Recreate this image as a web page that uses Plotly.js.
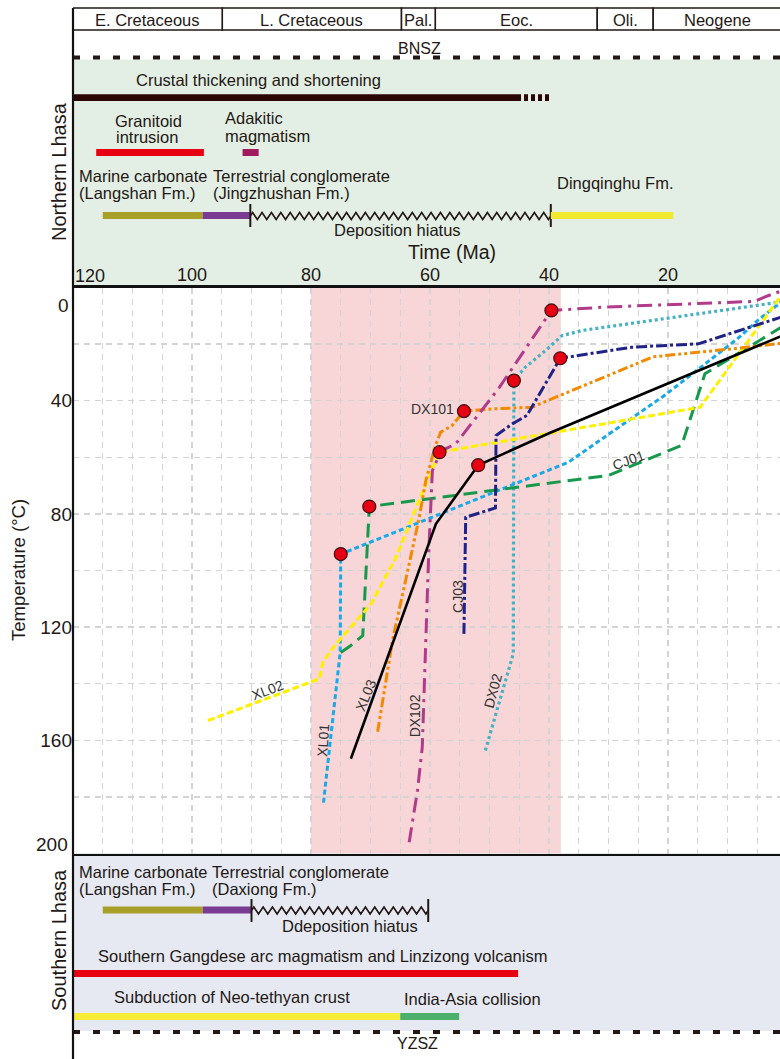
<!DOCTYPE html>
<html><head><meta charset="utf-8">
<script src="https://cdn.plot.ly/plotly-3.0.1.min.js"></script>
<style>html,body{margin:0;padding:0;overflow:hidden;background:#fff;width:780px;height:1059px}</style>
</head><body><div id="chart" style="width:800px;height:1059px"></div>
<script>
// ---------------- DATA ----------------
const periodNames = ['E. Cretaceous','L. Cretaceous','Pal.','Eoc.','Oli.','Neogene'];
const periodStart = [120, 94.9, 64.8, 59.1, 31.9, 22.5];
const periodEnd   = [94.9, 64.8, 59.1, 31.9, 22.5, 0.8];

const sampleNames = ['XL01','XL02','XL03','CJ01','CJ03','DX101','DX102','DX02'];

const xl01Age  = [77.9, 75.1, 75.0, 43.4, 36.7, 20.5, 13.2, 8.2, 4.9, 0];
const xl01Temp = [182, 129, 94.2, 67.5, 61.7, 38, 26, 17.9, 11.6, 3.5];

const xl02Age  = [97.3, 78.6, 78.0, 76.2, 69.9, 65.7, 61.8, 58.4, 14.6, 0];
const xl02Temp = [153, 138.3, 132.4, 127, 111.8, 95.3, 75.1, 58.2, 42.3, 0];

const xl03Age  = [73.3, 59.0, 51.9, 40.0, 0];
const xl03Temp = [166.5, 83.5, 62.8, 51.5, 16.3];

const cj01Age  = [75.0, 73.3, 71.3, 70.2, 30, 17.7, 13.8, 0];
const cj01Temp = [129, 126.5, 123, 77.4, 66.4, 55.8, 30.5, 12.8];

const cj03Age  = [54.3, 54.0, 49.0, 48.9, 46.2, 43.7, 38.1, 26.1, 14.9, 0];
const cj03Temp = [122.4, 81.2, 77.9, 52.3, 48.2, 45.2, 25.0, 21.1, 19.9, 9.8];

const dx101Age  = [68.8, 66.3, 64.1, 61.8, 60.7, 59.0, 58.2, 56.3, 54.3, 49.5, 42.9, 22.5, 9.3, 0];
const dx101Temp = [157, 124.7, 103.5, 81.2, 68.2, 55.3, 51.1, 48.8, 43.7, 42.9, 42.3, 24.5, 21.7, 19.5];

const dx102Age  = [63.5, 62.1, 61.3, 60.7, 60.2, 59.6, 58.5, 57.4, 55.7, 48.4, 39.6, 30.3, 5.4, 3.7, 0];
const dx102Temp = [196, 177.7, 162.4, 126.5, 92.9, 64.7, 59.5, 57, 55.3, 35.5, 8.1, 6.9, 4.9, 3.3, 0.5];

const dx02Age  = [50.7, 46.0, 45.9, 44.0, 40.6, 37.8, 34.5, 0];
const dx02Temp = [163.6, 129.4, 32.9, 28.2, 22.3, 17.0, 15.2, 4.8];

const dotAge  = [75.0, 70.2, 58.4, 54.3, 51.9, 45.9, 39.6, 38.1];
const dotTemp = [94.2, 77.4, 58.2, 43.7, 62.8, 32.9, 8.1, 25.0];

// event ages (Ma)
const shadeAges = [80, 38];
const crustalAges = [120, 44.7, 40.0];
const granitoidAges = [116.1, 98.0];
const adakiticAges = [91.5, 88.8];
const northStratAges = [115, 98.2, 90.2, 39.7, 19.1]; // carbonate | conglomerate | hiatus | Dingqinghu
const southStratAges = [115, 98.2, 90.0, 60.3];        // carbonate | conglomerate | hiatus
const gangdeseAges = [120, 45.2];
const subductionAges = [120, 65.0, 55.1];             // subduction | collision

const xTickVals = [100, 80, 60, 40, 20, 0];
const yTickVals = [40, 80, 120, 160];

// ---------------- LAYOUT HELPERS ----------------
const H = 1059, W = 800, L = 73, R = 13, PW = W - L - R;
const py = p => 1 - p / H;
const pxp = p => (p - L) / PW;
const FONT = 'Liberation Sans, Arial, sans-serif';
const TXT = '#231815';

function hbar(a0, a1, yPix, color, width, dash) {
  return {type:'line', xref:'x', yref:'paper', x0:a0, x1:a1, y0:py(yPix), y1:py(yPix),
          line:{color:color, width:width, dash:dash || 'solid'}};
}
function vtick(a, y0, y1) {
  return {type:'line', xref:'x', yref:'paper', x0:a, x1:a, y0:py(y0), y1:py(y1), line:{color:TXT, width:2}};
}
function zigzag(a0, a1, yPix, n, amp) {
  const step = (a1 - a0) / n;
  let d = 'M' + a0 + ',' + py(yPix);
  for (let i = 0; i < n; i++) {
    d += ' L' + (a0 + step * (i + 0.25)) + ',' + py(yPix - amp);
    d += ' L' + (a0 + step * (i + 0.75)) + ',' + py(yPix + amp);
  }
  d += ' L' + a1 + ',' + py(yPix);
  return {type:'path', xref:'x', yref:'paper', path:d, line:{color:TXT, width:1.6}};
}
function txt(text, xPix, yPix, opts) {
  opts = opts || {};
  return Object.assign({text:text, xref:'paper', yref:'paper', x:pxp(xPix), y:py(yPix),
    xanchor:'left', yanchor:'middle', showarrow:false,
    font:{family:FONT, size:16.5, color:TXT}}, opts);
}

// ---------------- TRACES ----------------
const styles = {
  XL01: {color:'#19a9e6', width:3, dash:'5px,3px'},
  XL02: {color:'#fff000', width:3, dash:'7px,3px'},
  XL03: {color:'#000000', width:2.6, dash:'solid'},
  CJ01: {color:'#16994a', width:3, dash:'14px,7px'},
  CJ03: {color:'#1f2287', width:3, dash:'11px,3px,3px,3px'},
  DX101:{color:'#f28a00', width:3, dash:'10px,3px,3px,3px,3px,3px'},
  DX102:{color:'#b23a8a', width:3, dash:'15px,6px,3px,6px'},
  DX02: {color:'#46b1c1', width:3.2, dash:'3px,3px'}
};
const seriesAge = {XL01:xl01Age, XL02:xl02Age, XL03:xl03Age, CJ01:cj01Age, CJ03:cj03Age, DX101:dx101Age, DX102:dx102Age, DX02:dx02Age};
const seriesTemp = {XL01:xl01Temp, XL02:xl02Temp, XL03:xl03Temp, CJ01:cj01Temp, CJ03:cj03Temp, DX101:dx101Temp, DX102:dx102Temp, DX02:dx02Temp};
const drawOrder = ['DX02','XL01','CJ01','XL02','DX101','DX102','CJ03','XL03'];

const traces = drawOrder.map(n => ({
  type:'scatter', mode:'lines', name:n, x:seriesAge[n], y:seriesTemp[n],
  line:styles[n], hoverinfo:'skip'
}));
traces.push({type:'scatter', mode:'markers', name:'samples', x:dotAge, y:dotTemp,
  marker:{size:13, color:'#e60012', line:{color:'#3b1212', width:1.2}}, hoverinfo:'skip'});

// ---------------- SHAPES ----------------
const shapes = [];
shapes.push({type:'rect', xref:'paper', yref:'paper', x0:0, x1:1.05, y0:py(287), y1:py(59.5),
  fillcolor:'#e3efe4', line:{width:0}, layer:'below'});
shapes.push({type:'rect', xref:'paper', yref:'paper', x0:0, x1:1.05, y0:py(1031), y1:py(853),
  fillcolor:'#e6e9f1', line:{width:0}, layer:'below'});
shapes.push({type:'rect', xref:'x', yref:'y', x0:shadeAges[0], x1:shadeAges[1], y0:0, y1:200,
  fillcolor:'#f8d6d7', line:{width:0}, layer:'below'});
for (let i = 0; i < periodNames.length; i++) {
  shapes.push({type:'rect', xref:'x', yref:'paper', x0:periodStart[i], x1:periodEnd[i], y0:py(30), y1:py(8),
    fillcolor:'rgba(0,0,0,0)', line:{color:TXT, width:1.4}});
}
shapes.push({type:'line', xref:'paper', yref:'paper', x0:0, x1:1.05, y0:py(57.5), y1:py(57.5),
  line:{color:TXT, width:4, dash:'7px,13px'}});
shapes.push({type:'line', xref:'paper', yref:'paper', x0:0, x1:1.05, y0:py(1032), y1:py(1032),
  line:{color:TXT, width:4, dash:'7px,13px'}});
shapes.push(hbar(crustalAges[0], crustalAges[1], 97.7, '#2b0606', 6.7));
shapes.push(hbar(crustalAges[1] - 0.5, crustalAges[2], 97.7, '#2b0606', 6.7, '4px,3px'));
shapes.push(hbar(granitoidAges[0], granitoidAges[1], 152.5, '#e60012', 7));
shapes.push(hbar(adakiticAges[0], adakiticAges[1], 152.5, '#a21a5e', 7));
shapes.push(hbar(northStratAges[0], northStratAges[1], 215.5, '#a9a02a', 7));
shapes.push(hbar(northStratAges[1], northStratAges[2], 215.5, '#7a3b93', 7));
shapes.push(zigzag(northStratAges[2], northStratAges[3], 216, 32, 3.5));
shapes.push(vtick(northStratAges[2], 204, 227));
shapes.push(vtick(northStratAges[3], 204, 227));
shapes.push(hbar(northStratAges[3], northStratAges[4], 215.5, '#f1e92d', 7));
shapes.push(hbar(southStratAges[0], southStratAges[1], 910, '#a9a02a', 7));
shapes.push(hbar(southStratAges[1], southStratAges[2], 910, '#7a3b93', 7));
shapes.push(zigzag(southStratAges[2], southStratAges[3], 910.5, 19, 3.5));
shapes.push(vtick(southStratAges[2], 899, 922));
shapes.push(vtick(southStratAges[3], 899, 922));
shapes.push(hbar(gangdeseAges[0], gangdeseAges[1], 973.5, '#e60012', 7));
shapes.push(hbar(subductionAges[0], subductionAges[1], 1016.5, '#f7ec36', 7));
shapes.push(hbar(subductionAges[1], subductionAges[2], 1016.5, '#4caf6b', 7));
shapes.push({type:'line', xref:'paper', yref:'paper', x0:0, x1:0, y0:py(8), y1:py(1060),
  line:{color:'#111', width:2.2}});

// ---------------- ANNOTATIONS ----------------
const ann = [];
for (let i = 0; i < periodNames.length; i++) {
  ann.push({text:periodNames[i], xref:'x', yref:'paper', x:(periodStart[i] + periodEnd[i]) / 2, y:py(19.5),
    xanchor:'center', yanchor:'middle', showarrow:false, font:{family:FONT, size:16.5, color:TXT}});
}
ann.push(txt('BNSZ', 419, 48.5, {xanchor:'center', font:{family:FONT, size:16, color:TXT}}));
ann.push(txt('Crustal thickening and shortening', 134, 80));
ann.push(txt('Granitoid', 113, 121));
ann.push(txt('intrusion', 114, 137.5));
ann.push(txt('Adakitic', 223, 118));
ann.push(txt('magmatism', 223, 135.5));
ann.push(txt('Marine carbonate', 77, 176));
ann.push(txt('(Langshan Fm.)', 77, 193));
ann.push(txt('Terrestrial conglomerate', 211, 176));
ann.push(txt('(Jingzhushan Fm.)', 211, 193));
ann.push(txt('Dingqinghu Fm.', 555, 183));
ann.push(txt('Deposition hiatus', 397, 230, {xanchor:'center'}));
ann.push(txt('Time (Ma)', 452, 251.5, {xanchor:'center', font:{family:FONT, size:19.5, color:TXT}}));
ann.push(txt('Northern Lhasa', 59, 172, {xanchor:'center', textangle:-90, font:{family:FONT, size:20, color:TXT}}));
ann.push({text:'120', xref:'x', yref:'paper', x:120, y:py(276), xanchor:'left', yanchor:'middle',
  showarrow:false, font:{family:FONT, size:18, color:TXT}});

ann.push(txt('Marine carbonate', 77, 872));
ann.push(txt('(Langshan Fm.)', 77, 889));
ann.push(txt('Terrestrial conglomerate', 210, 872));
ann.push(txt('(Daxiong Fm.)', 210, 889));
ann.push(txt('Ddeposition hiatus', 350, 926, {xanchor:'center'}));
ann.push(txt('Southern Gangdese arc magmatism and Linzizong volcanism', 96, 956));
ann.push(txt('Subduction of Neo-tethyan crust', 112, 997));
ann.push(txt('India-Asia collision', 402, 999));
ann.push(txt('YZSZ', 417, 1043, {xanchor:'center', font:{family:FONT, size:16, color:TXT}}));
ann.push(txt('Southern Lhasa', 59, 940, {xanchor:'center', textangle:-90, font:{family:FONT, size:20, color:TXT}}));
ann.push(txt('Temperature (°C)', 18, 570, {xanchor:'center', textangle:-90, font:{family:FONT, size:18.5, color:TXT}}));
ann.push({text:'0', xref:'paper', yref:'y', x:0, y:0, xanchor:'right', yanchor:'top', xshift:-2, yshift:-5,
  showarrow:false, font:{family:FONT, size:19, color:TXT}});
ann.push({text:'200', xref:'paper', yref:'y', x:0, y:200, xanchor:'right', yanchor:'bottom', xshift:-3, yshift:-3,
  showarrow:false, font:{family:FONT, size:19, color:TXT}});

const lblFont = {family:FONT, size:14, color:'#333'};
const curveLabels = [
  ['XL02', 87.3, 142.1, -21], ['XL01', 78.0, 159.8, -86], ['XL03', 70.8, 143.9, -68],
  ['DX102', 62.5, 151.5, -90], ['DX02', 49.4, 142.7, -75], ['CJ03', 55.4, 109.2, -90],
  ['CJ01', 26.6, 60.9, -20], ['DX101', 59.5, 43.0, 0]
];
curveLabels.forEach(c => ann.push({text:c[0], xref:'x', yref:'y', x:c[1], y:c[2], textangle:c[3],
  showarrow:false, xanchor:'center', yanchor:'middle', font:lblFont}));

// ---------------- AXES ----------------
const xGrid = [], xText = [];
for (let v = 0; v <= 120; v += 5) { xGrid.push(v); xText.push(xTickVals.includes(v) ? String(v) : ''); }
const yGrid = [], yText = [];
for (let v = 0; v <= 200; v += 20) { yGrid.push(v); yText.push(yTickVals.includes(v) ? String(v) : ''); }

const layout = {
  width:W, height:H, margin:{l:L, r:R, t:0, b:0},
  paper_bgcolor:'#fff', plot_bgcolor:'#fff', showlegend:false, hovermode:false,
  font:{family:FONT, color:TXT},
  xaxis:{range:[120, 0], side:'top', tickmode:'array', tickvals:xGrid, ticktext:xText,
    ticks:'', ticklabelstandoff:-3, showline:true, mirror:true, linecolor:'#111', linewidth:2.5,
    showgrid:true, gridcolor:'#d4d4d4', gridwidth:1.3, griddash:'6px,5px', zeroline:false,
    tickfont:{family:FONT, size:18, color:TXT}},
  yaxis:{range:[200, 0], domain:[py(853.5), py(287.5)], tickmode:'array', tickvals:yGrid, ticktext:yText,
    ticks:'', showline:false, showgrid:true, gridcolor:'#d4d4d4', gridwidth:1.3, griddash:'6px,5px',
    zeroline:false, tickfont:{family:FONT, size:19, color:TXT}},
  shapes:shapes, annotations:ann
};
Plotly.newPlot('chart', traces, layout, {staticPlot:true, displayModeBar:false});
</script></body></html>
